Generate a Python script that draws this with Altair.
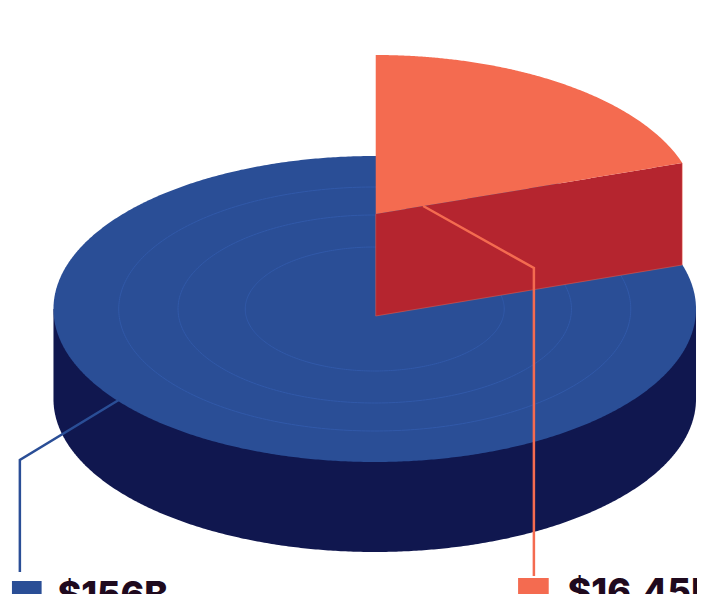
import numpy as np
import pandas as pd
import altair as alt

# Disc geometry (page pixels)
CX, CY, RX, RY = 379.0, 309.0, 325.0, 153.0
DEPTH = 90.0
RING_RX = [131.0, 199.0, 259.0]
RING_RY = [62.0, 94.0, 122.0]
# lifted slice
SLICE_X = [380.0, 690.0]
SLICE_TOP_CY, SLICE_TOP_RY = 209.0, 154.0
SLICE_INNER_Y = [214.0, 163.0]
WALL_BOTTOM_Y = [316.0, 265.0]
# leader lines
LEADER_BLUE_X = [120.0, 20.0, 20.0]
LEADER_BLUE_Y = [400.0, 460.0, 572.0]
LEADER_ORANGE_X = [428.0, 540.0, 540.0]
LEADER_ORANGE_Y = [206.0, 268.0, 576.0]
# legend
LEGEND_LABELS = ["$156B", "$16.45B"]
LEGEND_X0 = [12.0, 524.0]
LEGEND_X1 = [42.0, 555.0]
LEGEND_Y0 = [581.0, 578.0]
LEGEND_TEXT_X = [58.0, 574.0]
LEGEND_BASE = [607.0, 604.0]
LEGEND_COLORS = ["#2a4e96", "#f46b50"]

BLUE, NAVY, RED, ORANGE = "#2a4e96", "#10174f", "#b5252f", "#f46b50"
RING = "#3159a9"

X_SCALE = alt.Scale(domain=[8, 705], range=[0, 689], nice=False, zero=False)
Y_SCALE = alt.Scale(domain=[8, 594], range=[0, 586], nice=False, zero=False)
X = alt.X("x:Q", axis=None, scale=X_SCALE)
Y = alt.Y("y:Q", axis=None, scale=Y_SCALE)
Y2 = alt.Y2("y2:Q")
X2 = alt.X2("x2:Q")

t = np.linspace(np.pi, 0, 400)
xs = CX + RX * np.cos(t)
s = np.sin(t)

body = pd.DataFrame({"x": xs, "y": CY, "y2": CY + DEPTH + RY * s})
top = pd.DataFrame({"x": xs, "y": CY - RY * s, "y2": CY + RY * s})

tt = np.linspace(0, 2 * np.pi, 361)
rings = pd.concat([
    pd.DataFrame({"x": CX + a * np.cos(tt), "y": CY + b * np.sin(tt), "i": np.arange(361), "r": k})
    for k, (a, b) in enumerate(zip(RING_RX, RING_RY))
])

sx = np.linspace(SLICE_X[0], SLICE_X[1], 200)
frac = (sx - SLICE_X[0]) / (SLICE_X[1] - SLICE_X[0])
inner = SLICE_INNER_Y[0] + frac * (SLICE_INNER_Y[1] - SLICE_INNER_Y[0])
lower = WALL_BOTTOM_Y[0] + frac * (WALL_BOTTOM_Y[1] - WALL_BOTTOM_Y[0])
arc = SLICE_TOP_CY - SLICE_TOP_RY * np.sqrt(np.clip(1 - ((sx - SLICE_X[0]) / RX) ** 2, 0, 1))
wall = pd.DataFrame({"x": sx, "y": inner, "y2": lower})
slice_top = pd.DataFrame({"x": sx, "y": arc, "y2": inner})
wall_edge = pd.DataFrame({
    "x": [SLICE_X[0], SLICE_X[0], SLICE_X[1], SLICE_X[1]],
    "y": [SLICE_INNER_Y[0], WALL_BOTTOM_Y[0], WALL_BOTTOM_Y[1], SLICE_INNER_Y[1]],
    "i": range(4),
})

blue_line = pd.DataFrame({"x": LEADER_BLUE_X, "y": LEADER_BLUE_Y, "i": range(3)})
orange_line = pd.DataFrame({"x": LEADER_ORANGE_X, "y": LEADER_ORANGE_Y, "i": range(3)})
legend = pd.DataFrame({
    "label": LEGEND_LABELS, "x": LEGEND_X0, "x2": LEGEND_X1, "y": LEGEND_Y0,
    "y2": [594.0, 594.0], "tx": LEGEND_TEXT_X, "base": LEGEND_BASE, "color": LEGEND_COLORS,
})


def area(df, color):
    return alt.Chart(df).mark_area(color=color, orient="vertical", interpolate="linear", clip=False).encode(x=X, y=Y, y2=Y2)


layers = [
    area(body, NAVY),
    area(top, BLUE),
    alt.Chart(rings).mark_line(color=RING, strokeWidth=1).encode(x=X, y=Y, detail="r:N", order="i:Q"),
    area(wall, RED),
    alt.Chart(wall_edge).mark_line(color=ORANGE, strokeWidth=0.75, opacity=0.6).encode(x=X, y=Y, order="i:Q"),
    area(slice_top, ORANGE),
    alt.Chart(blue_line).mark_line(color=BLUE, strokeWidth=2.5).encode(x=X, y=Y, order="i:Q"),
    alt.Chart(orange_line).mark_line(color=ORANGE, strokeWidth=2.5).encode(x=X, y=Y, order="i:Q"),
    alt.Chart(legend).mark_rect().encode(x=X, x2=X2, y=Y, y2=Y2, color=alt.Color("color:N", scale=None)),
    alt.Chart(legend).mark_text(font="Inter", fontSize=36, fontWeight=800, align="left",
                                baseline="alphabetic", color="#1f0a1e").encode(
        x=alt.X("tx:Q", axis=None, scale=X_SCALE),
        y=alt.Y("base:Q", axis=None, scale=Y_SCALE),
        text="label:N"),
]

chart = alt.layer(*layers).properties(
    width=689, height=586, padding=0,
    autosize=alt.AutoSizeParams(type="none"),
    background="white",
).configure_view(stroke=None)

chart.save("out.html", embed_options={"renderer": "svg", "actions": False})
